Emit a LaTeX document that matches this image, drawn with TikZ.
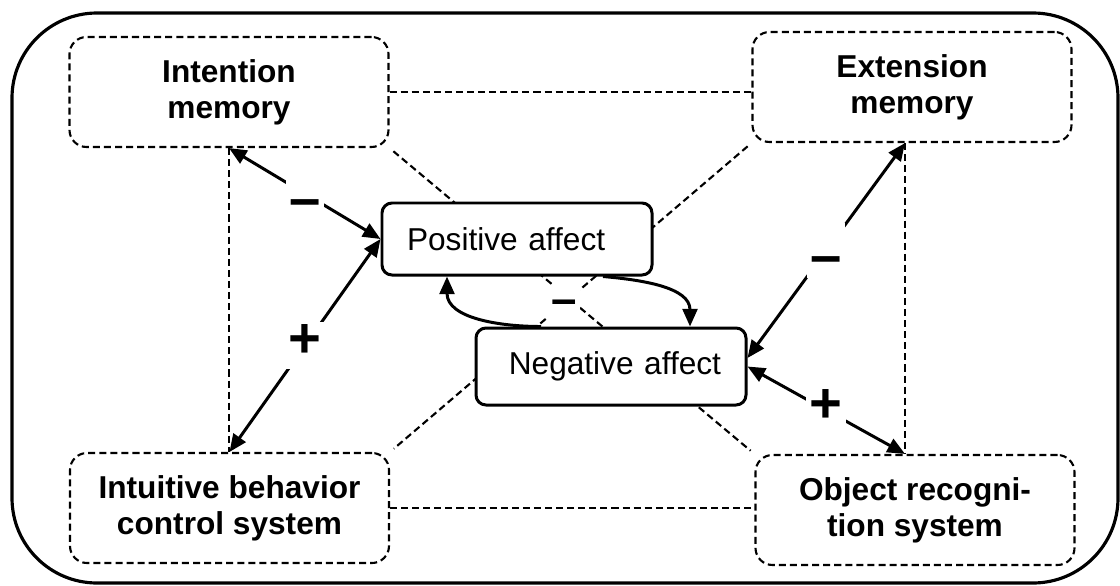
\documentclass[tikz,border=0pt]{standalone}
\usepackage{fontspec}
\setmainfont{Liberation Sans}
\usetikzlibrary{arrows.meta, calc}

\begin{document}
\begin{tikzpicture}[
  x=1cm, y=1cm,
  frame/.style={line width=0.9pt, rounded corners=8.5mm},
  system/.style={draw, line width=0.6pt, dash pattern=on 2pt off 1.15pt,
                 rounded corners=1.7mm, minimum width=3.19cm,
                 minimum height=1.10cm, align=center, inner sep=0pt,
                 font=\fontsize{9pt}{10.3pt}\selectfont\bfseries},
  affect/.style={draw, fill=white, line width=0.85pt, rounded corners=1mm,
                 text width=2.2cm, inner xsep=0.25cm, inner ysep=0pt,
                 font=\fontsize{9pt}{11pt}\selectfont},
  link/.style={line width=0.6pt, dash pattern=on 2pt off 1.15pt},
  duplex/.style={{Triangle[length=5pt,width=4.2pt]}-{Triangle[length=5pt,width=4.2pt]},
                 line width=0.85pt},
  feed/.style={-{Triangle[length=5pt,width=4.2pt]}, line width=0.85pt},
  sign/.style={fill=white, inner sep=1pt,
               font=\fontsize{16pt}{16pt}\selectfont\bfseries},
  minus/.style={sign, text height=13.6pt, text depth=0pt},
  plus/.style={sign, text height=9.2pt, text depth=2.2pt},
]
\useasboundingbox (0,0) rectangle (11.2,5.85);

% =========================================================================
% Outer frame and the four cognitive systems (dashed)
% =========================================================================
\draw[frame] (0.12,0.02) rectangle (11.18,5.72);

\node[system] (im)  at (2.29,4.93)  {Intention\\memory};
\node[system] (em)  at (9.12,4.98)  {Extension\\memory};
\node[system] (ib)  at (2.295,0.77) {Intuitive behavior\\control system};
\node[system] (orc) at (9.15,0.75)  {Object recogni-\\tion system};

% junctions of the vertical links, where the arrows land
\coordinate (rt) at ([xshift=-0.07cm]em.south);
\coordinate (rb) at (rt |- orc.north);

% ---- dashed links between the systems -----------------------------------
\draw[link] (im.east) -- (im.east -| em.west);
\draw[link] (ib.east) -- (ib.east -| orc.west);
\draw[link] (im.south) -- (im.south |- ib.north);
\draw[link] (rt) -- (rb);
\draw[link, shorten <=0.05cm, shorten >=0.05cm] (im.south east) -- (orc.north west);
\draw[link, shorten <=0.05cm, shorten >=0.05cm] (em.south west) -- (ib.north east);

% =========================================================================
% The two affects
% =========================================================================
\node[affect, align=left, minimum height=0.72cm]  (pa) at (5.17,3.46)
  {Positive affect};
\node[affect, align=right, minimum height=0.77cm] (na) at (6.11,2.185)
  {Negative affect};

% ---- mutual feedback between the affects --------------------------------
\draw[feed] ([xshift=0.86cm]pa.south) to[out=-5,in=90] ([xshift=0.79cm]na.north);
\draw[feed] ([xshift=-0.70cm]na.north) to[out=180,in=-90] ([xshift=-0.70cm]pa.south);
\node[sign, font=\fontsize{13pt}{13pt}\selectfont\bfseries,
      text height=7.5pt, text depth=0pt] (m0)
  at ($(pa.south)!0.5!(na.north)$) {--};

% ---- arrows to the systems ----------------------------------------------
\draw[duplex] (im.south) -- node[minus] (m1) {--} (pa.west);
\draw[duplex] (ib.north) -- node[plus]  (p1) {+}  (pa.west);
\draw[duplex] (rt) -- node[minus] (m2) {--} ([yshift=0.085cm]na.east);
\draw[duplex] (rb) -- node[plus]  (p2) {+}  (na.east);

\end{tikzpicture}
\end{document}
